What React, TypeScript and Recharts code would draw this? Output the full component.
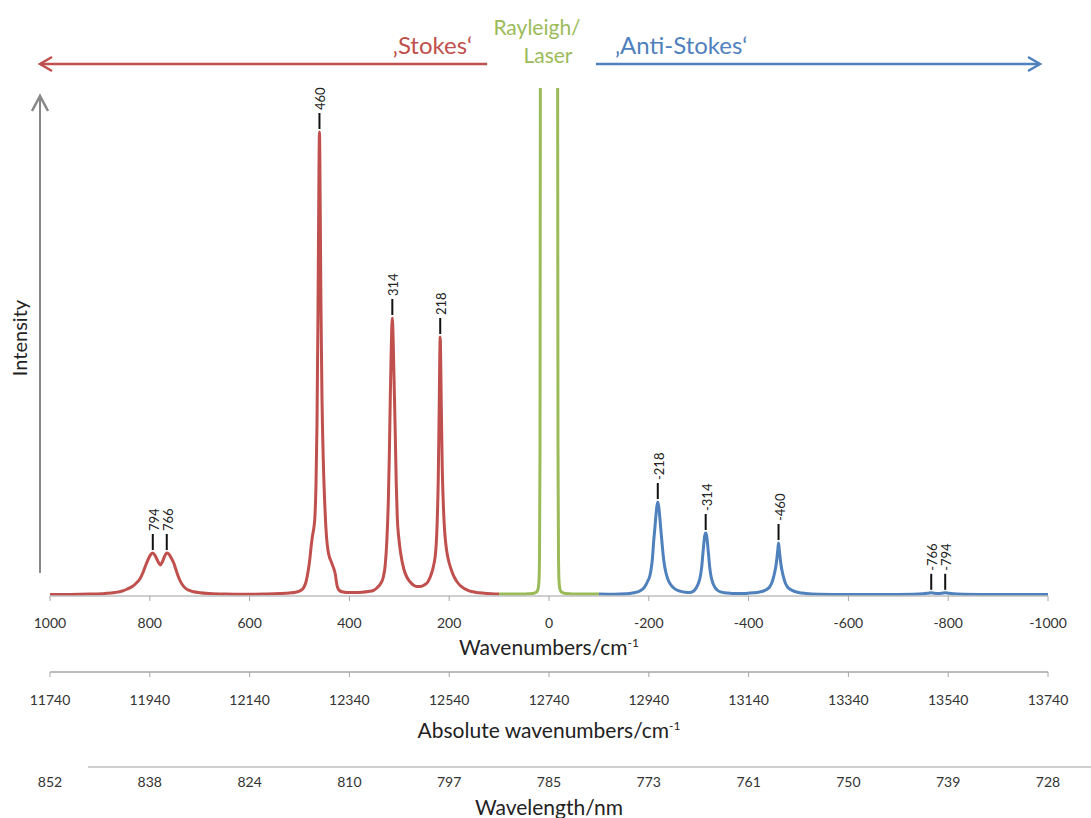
import React from "react";
import {
  ComposedChart,
  Line,
  Scatter,
  XAxis,
  YAxis,
  ReferenceLine,
  ReferenceDot,
} from "recharts";

// Raman shift (cm-1) and intensity (a.u.)
const stokesShift = [
  1000, 960, 920, 890, 870, 855, 845, 835, 827, 820, 814, 808, 802, 798, 794, 790, 786, 782, 779, 775,
  771, 766, 762, 757, 752, 748, 744, 740, 735, 729, 722, 712, 700, 680, 650, 610, 570, 540, 520, 508,
  498, 492, 487, 483, 480, 477, 474, 471, 469, 467, 465, 463, 461.5, 460, 458.5, 457, 455, 452, 449, 446,
  443, 440, 437, 434, 431, 428, 426, 424, 420, 414, 405, 390, 375, 362, 352, 345, 338, 332, 328, 325,
  322, 320, 318, 316, 314, 312, 310, 308, 306, 304, 301, 297, 291, 285, 279, 272, 265, 258, 250, 243,
  238, 234, 231, 228, 226, 224, 222, 220, 219, 218, 217, 216, 214, 212, 210, 208, 205, 200, 195, 190,
  184, 178, 170, 160, 148, 130, 115, 100,
];
const stokesIntensity = [
  1.5, 1.6, 2, 2.6, 3.5, 5, 7, 9.5, 13, 17, 23, 31, 38, 41.5, 43, 41, 37, 33, 31, 34,
  39, 43, 42, 38, 33, 27, 21, 16, 11.5, 8, 5.8, 4.2, 3.3, 2.5, 2, 1.8, 2, 2.4, 3, 3.8,
  5.5, 8, 14, 24, 34, 48, 60, 69, 80, 110, 170, 280, 390, 464, 390, 290, 200, 130, 88, 60,
  46, 39, 35, 31, 27, 21, 14, 9, 5.5, 4.2, 3.6, 3.5, 3.8, 4.5, 5.5, 8, 12, 19, 32, 55,
  95, 140, 200, 250, 278, 250, 205, 160, 110, 78, 58, 42, 27, 19, 14.5, 11, 9.5, 9.5, 11, 14,
  19, 25, 31, 40, 52, 75, 115, 190, 235, 259, 235, 195, 130, 95, 72, 58, 45, 33, 25, 19,
  14, 10.5, 7.5, 5.2, 3.8, 2.8, 2.3, 2,
];

const laserShift = [
  100, 80, 60, 45, 35, 28, 24, 21.5, 20, 19, 18, 17.2, 16, 0,
  -16, -17.2, -18, -19, -20, -21.5, -24, -28, -35, -45, -60, -80, -100,
];
const laserIntensity = [
  2, 1.9, 1.9, 2.1, 2.5, 3.2, 4.5, 8, 16, 40, 150, 600, 1400, 2400,
  1400, 600, 150, 40, 16, 8, 4.5, 3.2, 2.5, 2.1, 1.9, 1.9, 2,
];

const antiShift = [
  -100, -130, -155, -170, -182, -190, -194, -198, -202, -205, -207, -210, -212, -214, -216, -218, -220, -222, -224, -226,
  -229, -231, -234, -238, -243, -249, -256, -264, -273, -282, -288, -292, -296, -300, -303, -306, -308, -310, -312, -314,
  -316, -318, -320, -322, -325, -328, -332, -337, -344, -352, -365, -380, -395, -410, -420, -430, -436, -442, -446, -449,
  -452, -455, -457, -458.5, -460, -461.5, -463, -465, -468, -471, -474, -478, -484, -490, -500, -515, -540, -600, -680, -730,
  -750, -760, -766, -772, -780, -787, -794, -800, -810, -830, -880, -1000,
];
const antiIntensity = [
  2, 1.8, 2.3, 3.2, 5, 8, 11, 15, 20, 28, 36, 56, 67, 79, 89, 94, 89, 79, 67, 56,
  40, 32, 24, 17, 12, 8.5, 6, 4.6, 3.8, 3.6, 4.3, 6, 9, 13.5, 19, 29, 40, 51, 60, 63,
  60, 51, 40, 29, 19, 13.5, 9, 6, 4.2, 3.2, 2.6, 2.4, 2.6, 3.2, 3.8, 5, 6.5, 9, 12.5, 17,
  23, 31, 39, 46, 53, 46, 39, 31, 23, 17, 12.5, 9, 6.5, 5, 3.5, 2.5, 1.8, 1.5, 1.5, 1.7,
  2.2, 2.8, 3.2, 2.8, 2.6, 2.8, 3.2, 2.8, 2.2, 1.7, 1.5, 1.5,
];

// labelled bands
const peakShift = [794, 766, 460, 314, 218, -218, -314, -460, -766, -794];
const peakHeight = [43, 43, 464, 278, 259, 94, 63, 53, 3.2, 3.2];
const peakText = ["794", "766", "460", "314", "218", "-218", "-314", "-460", "-766", "-794"];

// axes
const relTicks = [1000, 800, 600, 400, 200, 0, -200, -400, -600, -800, -1000];
const absTicks = [11740, 11940, 12140, 12340, 12540, 12740, 12940, 13140, 13340, 13540, 13740];
const nmLabels = ["852", "838", "824", "810", "797", "785", "773", "761", "750", "739", "728"];

const RED = "#C0504D";
const GREEN = "#9BBB59";
const BLUE = "#4F81BD";

const toPoints = (xs: number[], ys: number[]) => xs.map((x, i) => ({ x, y: ys[i] }));

const stokesData = toPoints(stokesShift, stokesIntensity);
const laserData = toPoints(laserShift, laserIntensity);
const antiData = toPoints(antiShift, antiIntensity);
const peakData = peakShift.map((x, i) => ({ x, y: peakHeight[i], label: peakText[i] }));
// invisible anchors so the secondary axes get a domain
const absAnchor = absTicks.map((x) => ({ x, y: 0 }));

const PeakTag = (props: any) => {
  const { cx, cy, payload } = props;
  if (cx == null || cy == null) return null;
  const ty = cy - 22;
  return (
    <g>
      <line x1={cx} x2={cx} y1={cy - 3} y2={cy - 19} stroke="#111" strokeWidth={2} />
      <text
        x={cx + 1}
        y={ty}
        transform={`rotate(-90 ${cx + 1} ${ty})`}
        dominantBaseline="central"
        fontSize={13}
        fill="#222"
      >
        {payload.label}
      </text>
    </g>
  );
};

const axisTitle = (text: string, dy: number, sup?: string, line?: boolean) => (props: any) => {
  const { x, y, width } = props.viewBox;
  return (
    <g>
      {line && <line x1={x + 38} x2={x + width + 43} y1={y} y2={y} stroke="#BFBFBF" strokeWidth={1.5} />}
      <text x={x + width / 2} y={y + dy} textAnchor="middle" fontSize={21} fill="#222">
        {text}
        {sup && (
          <tspan dy={-8} fontSize={12}>
            {sup}
          </tspan>
        )}
      </text>
    </g>
  );
};

const intensityAxis = (props: any) => {
  const { x, y, height } = props.viewBox;
  const ax = x + 40;
  const top = y + 8;
  const bottom = y + height - 23;
  return (
    <g>
      <line x1={ax} x2={ax} y1={bottom} y2={top} stroke="#888" strokeWidth={2} />
      <polyline points={`${ax - 8},${top + 15} ${ax},${top} ${ax + 8},${top + 15}`} fill="none" stroke="#888" strokeWidth={2.5} />
      <text x={x + 27} y={y + 250} transform={`rotate(-90 ${x + 27} ${y + 250})`} textAnchor="middle" fontSize={20} fill="#222">
        Intensity
      </text>
    </g>
  );
};

const arrow = (color: string, text: string, headLeft: boolean) => (props: any) => {
  const { x1, x2, y1 } = props;
  const left = Math.min(x1, x2);
  const right = Math.max(x1, x2);
  const tip = headLeft ? left : right;
  const s = headLeft ? 1 : -1;
  return (
    <g>
      <line x1={left} x2={right} y1={y1} y2={y1} stroke={color} strokeWidth={2.5} />
      <polyline
        points={`${tip + s * 12},${y1 - 7} ${tip},${y1} ${tip + s * 12},${y1 + 7}`}
        fill="none"
        stroke={color}
        strokeWidth={2.5}
      />
      <text
        x={headLeft ? right - 15 : left + 19}
        y={y1 - 10}
        textAnchor={headLeft ? "end" : "start"}
        fontSize={24}
        fill={color}
      >
        {text}
      </text>
    </g>
  );
};

const laserTag = (props: any) => {
  const { cx, cy } = props;
  return (
    <g fill={GREEN} fontSize={21} textAnchor="middle">
      <text x={cx - 12} y={cy - 29}>Rayleigh/</text>
      <text x={cx - 1} y={cy - 1}>Laser</text>
    </g>
  );
};

const App = () => {
  return (
    <div style={{ position: "absolute", left: 0, top: 0, width: 1091, height: 818, background: "#fff", fontFamily: "Lato, 'Open Sans', sans-serif" }}>
      <ComposedChart width={1091} height={818} margin={{ top: 88, right: 43, bottom: 0, left: 0 }}>
        <XAxis
          xAxisId="x1rel"
          type="number"
          dataKey="x"
          domain={[-1000, 1000]}
          reversed
          allowDataOverflow
          ticks={relTicks}
          interval={0}
          height={76}
          axisLine={{ stroke: "#BFBFBF", strokeWidth: 1.5 }}
          tickLine={{ stroke: "#A6A6A6" }}
          tickSize={5}
          tickMargin={17}
          tick={{ fill: "#333", fontSize: 14 }}
          label={axisTitle("Wavenumbers/cm", 59, "-1")}
        />
        <XAxis
          xAxisId="x2abs"
          type="number"
          dataKey="x"
          domain={[11740, 13740]}
          allowDataOverflow
          ticks={absTicks}
          interval={0}
          height={95}
          axisLine={{ stroke: "#A6A6A6", strokeWidth: 1.5 }}
          tickLine={{ stroke: "#A6A6A6" }}
          tickSize={5}
          tickMargin={18}
          tick={{ fill: "#333", fontSize: 14 }}
          label={axisTitle("Absolute wavenumbers/cm", 66, "-1")}
        />
        <XAxis
          xAxisId="x3nm"
          type="number"
          dataKey="x"
          domain={[11740, 13740]}
          allowDataOverflow
          ticks={absTicks}
          interval={0}
          height={51}
          axisLine={false}
          tickLine={false}
          tickSize={0}
          tickMargin={10}
          tick={{ fill: "#333", fontSize: 14 }}
          tickFormatter={(v: number) => nmLabels[absTicks.indexOf(v)]}
          label={axisTitle("Wavelength/nm", 48, undefined, true)}
        />
        <YAxis
          yAxisId="int"
          type="number"
          dataKey="y"
          domain={[0, 508]}
          allowDataOverflow
          width={50}
          axisLine={false}
          tickLine={false}
          tick={false}
          label={intensityAxis}
        />
        <YAxis yAxisId="lab" type="number" dataKey="y" domain={[0, 508]} hide />

        <Line xAxisId="x2abs" yAxisId="lab" data={absAnchor} dataKey="y" stroke="none" dot={false} activeDot={false} legendType="none" isAnimationActive={false} />
        <Line xAxisId="x3nm" yAxisId="lab" data={absAnchor} dataKey="y" stroke="none" dot={false} activeDot={false} legendType="none" isAnimationActive={false} />

        <Line xAxisId="x1rel" yAxisId="int" data={stokesData} dataKey="y" type="monotone" stroke={RED} strokeWidth={3} dot={false} isAnimationActive={false} />
        <Line xAxisId="x1rel" yAxisId="int" data={laserData} dataKey="y" type="monotone" stroke={GREEN} strokeWidth={3} dot={false} isAnimationActive={false} />
        <Line xAxisId="x1rel" yAxisId="int" data={antiData} dataKey="y" type="monotone" stroke={BLUE} strokeWidth={3} dot={false} isAnimationActive={false} />

        <Scatter xAxisId="x1rel" yAxisId="lab" data={peakData} dataKey="y" shape={PeakTag} isAnimationActive={false} />

        <ReferenceLine
          xAxisId="x1rel"
          yAxisId="lab"
          segment={[{ x: 1020, y: 532 }, { x: 124, y: 532 }]}
          ifOverflow="visible"
          shape={arrow(RED, "\u201AStokes\u2018", true)}
        />
        <ReferenceLine
          xAxisId="x1rel"
          yAxisId="lab"
          segment={[{ x: -94, y: 532 }, { x: -984, y: 532 }]}
          ifOverflow="visible"
          shape={arrow(BLUE, "\u201AAnti-Stokes\u2018", false)}
        />
        <ReferenceDot xAxisId="x1rel" yAxisId="lab" x={0} y={532} ifOverflow="visible" shape={laserTag} />
      </ComposedChart>
    </div>
  );
};

export default App;
